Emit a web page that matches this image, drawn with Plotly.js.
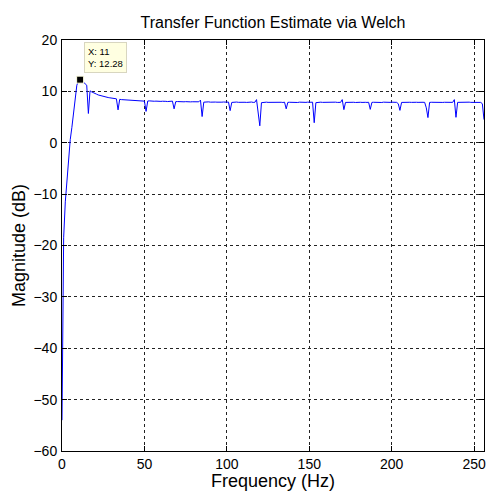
<!DOCTYPE html>
<html>
<head>
<meta charset="utf-8">
<script src="https://cdn.plot.ly/plotly-3.0.1.min.js"></script>
<style>html,body{margin:0;padding:0;background:#fff;}#chart{width:491px;height:491px;}</style>
</head>
<body>
<div id="chart"></div>
<script>
// Frequency grid (Hz), 1 Hz spacing from 0 to 256
const freqStart = 0, freqStep = 1, freqCount = 257;
const freq = [];
for (let i = 0; i < freqCount; i++) freq.push(freqStart + i * freqStep);

// Magnitude (dB), one value per Hz
const magnitude = [
  -54, -18.5, -11.5, -6.8, -2.5, 0.6, 3.0, 5.6, 8.6, 11.2,
  12.0, 12.28, 12.1, 11.8, 11.5, 11.2, 5.7, 10.1, 9.9, 9.8,
  9.6, 9.45, 9.3, 9.2, 9.1, 9.0, 8.95, 8.85, 8.8, 8.75,
  8.7, 8.65, 8.6, 8.55, 6.4, 8.45, 8.4, 8.38, 8.35, 8.3,
  8.3, 8.28, 8.25, 8.3, 8.22, 8.2, 8.22, 8.18, 8.2, 8.15,
  8.1, 6.1, 8.12, 8.15, 8.1, 8.12, 8.08, 8.1, 8.05, 8.1,
  8.05, 8.08, 8.0, 8.06, 8.02, 8.05, 8.0, 8.1, 6.6, 8.0,
  8.02, 7.98, 8.0, 8.04, 7.97, 8.0, 7.95, 8.02, 7.96, 7.98,
  7.95, 8.0, 7.93, 7.97, 8.3, 5.1, 7.9, 7.95, 7.92, 7.96,
  7.9, 7.94, 7.88, 7.92, 7.9, 7.95, 7.88, 7.9, 7.93, 7.87,
  7.9, 7.92, 6.25, 7.85, 7.9, 7.88, 7.92, 7.87, 7.9, 7.86,
  7.9, 7.88, 7.85, 7.9, 7.87, 7.92, 7.85, 7.88, 8.4, 6.2,
  3.3, 7.8, 7.88, 7.85, 7.9, 7.86, 7.88, 7.84, 7.9, 7.87,
  7.85, 7.9, 7.86, 7.88, 7.84, 7.9, 6.6, 7.86, 7.88, 7.85,
  7.9, 7.86, 7.88, 7.84, 7.9, 7.87, 7.85, 7.88, 7.86, 7.9,
  7.85, 7.88, 7.9, 3.9, 7.8, 7.88, 7.85, 7.9, 7.86, 7.88,
  7.84, 7.9, 7.87, 7.85, 7.88, 7.86, 7.9, 7.85, 7.88, 7.86,
  8.4, 6.45, 7.85, 7.88, 7.86, 7.9, 7.85, 7.88, 7.84, 7.9,
  7.86, 7.88, 7.85, 7.9, 7.87, 7.85, 7.88, 6.5, 7.86, 7.88,
  7.85, 7.9, 7.86, 7.88, 7.84, 7.9, 7.87, 7.85, 7.88, 7.86,
  7.9, 7.85, 7.88, 7.86, 7.6, 6.3, 7.85, 7.88, 7.86, 7.9,
  7.85, 7.88, 7.86, 7.9, 7.84, 7.88, 7.86, 7.9, 7.85, 7.88,
  7.86, 6.8, 4.9, 7.85, 7.88, 7.86, 7.9, 7.85, 7.88, 7.86,
  7.9, 7.85, 7.88, 7.86, 7.9, 7.84, 7.88, 7.86, 8.4, 4.95,
  7.86, 7.88, 7.85, 7.9, 7.86, 7.88, 7.84, 7.9, 7.86, 7.88,
  7.85, 7.9, 7.86, 7.88, 7.85, 7.6, 4.5
];

const xTickVals = [0, 50, 100, 150, 200, 250];
const yTickVals = [-60, -50, -40, -30, -20, -10, 0, 10, 20];

// data tip at the maximum
let peakIdx = 0;
for (let i = 1; i < magnitude.length; i++) if (magnitude[i] > magnitude[peakIdx]) peakIdx = i;
const peakX = freq[peakIdx], peakY = magnitude[peakIdx];

const FONT = 'Arial, "Liberation Sans", Helvetica, sans-serif';

const traces = [
  {
    x: freq, y: magnitude, type: 'scatter', mode: 'lines',
    line: {color: '#0000FF', width: 1}, hoverinfo: 'skip', showlegend: false
  },
  {
    x: [peakX], y: [peakY], type: 'scatter', mode: 'markers',
    marker: {symbol: 'square', size: 7, color: '#000', line: {color: '#FFFFE1', width: 1}},
    hoverinfo: 'skip', showlegend: false
  }
];

const axisCommon = {
  showline: true, linecolor: '#000', linewidth: 1, mirror: 'ticks',
  ticks: 'inside', ticklen: 5, tickwidth: 1, tickcolor: '#000',
  showgrid: true, gridcolor: '#222', gridwidth: 1, griddash: 'dot',
  zeroline: false, tickfont: {family: FONT, size: 14, color: '#000'}
};

const layout = {
  width: 491, height: 491,
  margin: {l: 62, r: 7, t: 40, b: 40},
  paper_bgcolor: '#fff', plot_bgcolor: '#fff',
  font: {family: FONT, color: '#000'},
  title: {
    text: 'Transfer Function Estimate via Welch',
    font: {family: FONT, size: 16, color: '#000'},
    xref: 'paper', x: 0.5, xanchor: 'center',
    yref: 'container', y: 1 - 22 / 491, yanchor: 'middle'
  },
  xaxis: Object.assign({}, axisCommon, {
    range: [0, 256], tickvals: xTickVals,
    title: {text: 'Frequency (Hz)', font: {family: FONT, size: 18, color: '#000'}, standoff: 6},
    ticklabelstandoff: 0
  }),
  yaxis: Object.assign({}, axisCommon, {
    range: [-60, 20], tickvals: yTickVals,
    title: {text: 'Magnitude (dB)', font: {family: FONT, size: 18, color: '#000'}, standoff: 3},
    ticklabelstandoff: 1
  }),
  annotations: [{
    x: peakX, y: peakY, xref: 'x', yref: 'y',
    text: 'X: ' + peakX + '<br>Y: ' + peakY.toFixed(2),
    showarrow: false, xanchor: 'left', yanchor: 'bottom', align: 'left',
    xshift: 4, yshift: 7,
    font: {family: FONT, size: 9.5, color: '#000'},
    bgcolor: '#FFFFE1', bordercolor: '#D8D6C0', borderwidth: 1, borderpad: 3
  }]
};

Plotly.newPlot('chart', traces, layout, {displayModeBar: false, staticPlot: true});
</script>
</body>
</html>
